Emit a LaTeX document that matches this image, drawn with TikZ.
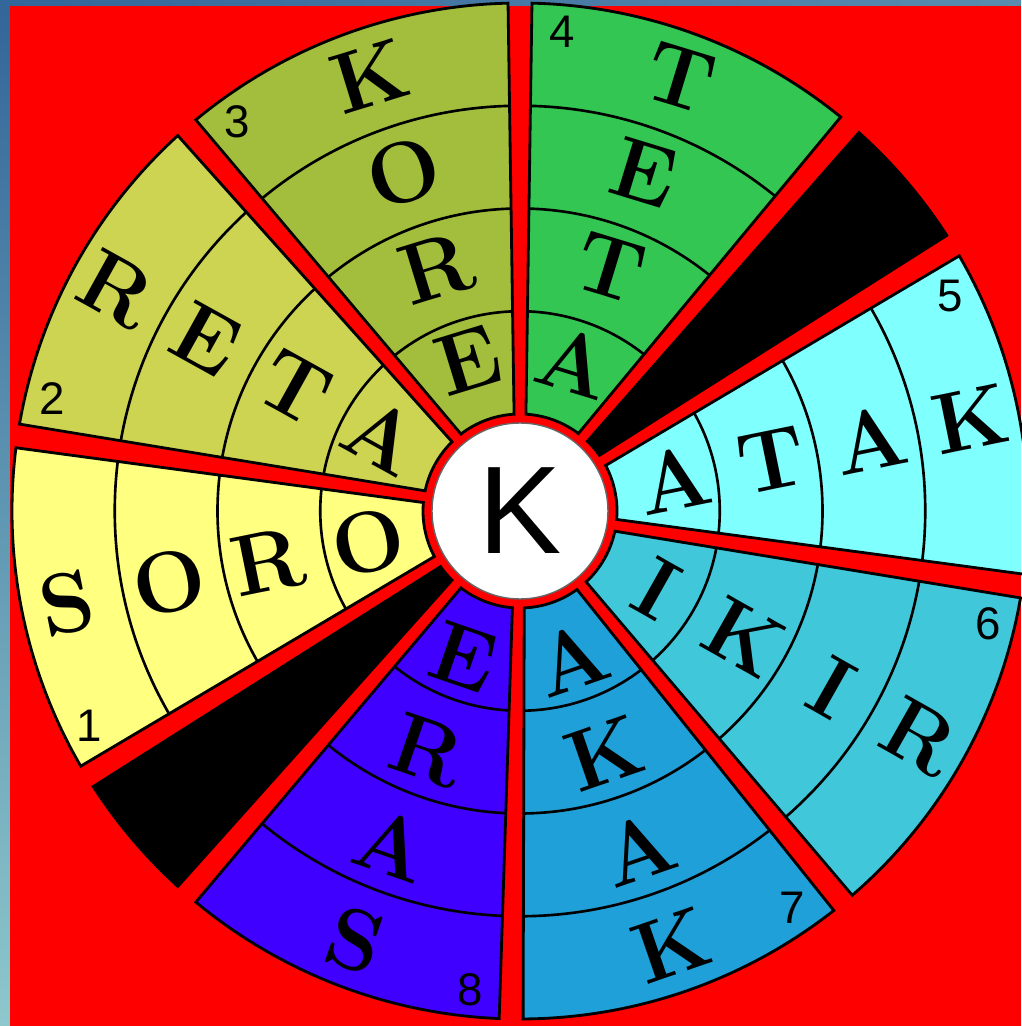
\documentclass[tikz,border=0pt]{standalone}
\usepackage{fontspec}
\newfontfamily\hubfont{Liberation Sans}
\definecolor{bgred}{HTML}{FF0000}
\definecolor{edgeblue}{HTML}{336699}
\definecolor{edgecyan}{HTML}{8CC8CC}
\definecolor{edgelight}{HTML}{5A8CAE}
\definecolor{wedgeone}{HTML}{FFFF80}
\definecolor{wedgetwo}{HTML}{CCD452}
\definecolor{wedgethree}{HTML}{A3BE3C}
\definecolor{wedgefour}{HTML}{34C652}
\definecolor{wedgefive}{HTML}{80FFFF}
\definecolor{wedgesix}{HTML}{40C8DA}
\definecolor{wedgeseven}{HTML}{20A0D8}
\definecolor{wedgeeight}{HTML}{4000FF}
\tikzset{
  outline/.style={draw=black, line width=1.6pt},
  ringline/.style={draw=black, line width=1.5pt},
  letter/.style={inner sep=0pt, font=\fontsize{49}{49}\selectfont\bfseries},
  number/.style={inner sep=0pt, font=\hubfont\fontsize{26}{26}\selectfont},
  hub/.style={circle, fill=white, draw=black!60, line width=0.8pt, minimum size=3.52cm, inner sep=0pt, font=\hubfont\fontsize{71}{71}\selectfont}
}

\begin{document}
\begin{tikzpicture}[x=0.02cm, y=0.02cm]

\useasboundingbox (-520,-515) rectangle (501,511);
\fill[bgred] (-510,-515) rectangle (501,505);
\shade[left color=edgeblue, right color=edgelight] (-520,505) rectangle (501,511);
\shade[top color=edgeblue, bottom color=edgecyan] (-520,-515) rectangle (-510,505);

% word wedges, numbered 1 to 8
\begin{scope}
  \clip (175:97) -- (172.85:508) arc[start angle=172.85, end angle=210.15, radius=508] -- (208:97) arc[start angle=208, end angle=175, radius=97] -- cycle;
  \fill[wedgeone] (-520,-515) rectangle (501,511);
  \draw[ringline] (0,0) circle[radius=199.75] circle[radius=302.5] circle[radius=405.25];
\end{scope}
\draw[outline] (175:97) -- (172.85:508) arc[start angle=172.85, end angle=210.15, radius=508] -- (208:97) arc[start angle=208, end angle=175, radius=97] -- cycle;

\begin{scope}
  \clip (134.5:97) -- (132.35:508) arc[start angle=132.35, end angle=170.15, radius=508] -- (168:97) arc[start angle=168, end angle=134.5, radius=97] -- cycle;
  \fill[wedgetwo] (-520,-515) rectangle (501,511);
  \draw[ringline] (0,0) circle[radius=199.75] circle[radius=302.5] circle[radius=405.25];
\end{scope}
\draw[outline] (134.5:97) -- (132.35:508) arc[start angle=132.35, end angle=170.15, radius=508] -- (168:97) arc[start angle=168, end angle=134.5, radius=97] -- cycle;

\begin{scope}
  \clip (93.5:97) -- (91.35:508) arc[start angle=91.35, end angle=129.65, radius=508] -- (127.5:97) arc[start angle=127.5, end angle=93.5, radius=97] -- cycle;
  \fill[wedgethree] (-520,-515) rectangle (501,511);
  \draw[ringline] (0,0) circle[radius=199.75] circle[radius=302.5] circle[radius=405.25];
\end{scope}
\draw[outline] (93.5:97) -- (91.35:508) arc[start angle=91.35, end angle=129.65, radius=508] -- (127.5:97) arc[start angle=127.5, end angle=93.5, radius=97] -- cycle;

\begin{scope}
  \clip (53:97) -- (50.85:508) arc[start angle=50.85, end angle=88.65, radius=508] -- (86.5:97) arc[start angle=86.5, end angle=53, radius=97] -- cycle;
  \fill[wedgefour] (-520,-515) rectangle (501,511);
  \draw[ringline] (0,0) circle[radius=199.75] circle[radius=302.5] circle[radius=405.25];
\end{scope}
\draw[outline] (53:97) -- (50.85:508) arc[start angle=50.85, end angle=88.65, radius=508] -- (86.5:97) arc[start angle=86.5, end angle=53, radius=97] -- cycle;

\begin{scope}
  \clip (-5:97) -- (-7.15:508) arc[start angle=-7.15, end angle=30.15, radius=508] -- (28:97) arc[start angle=28, end angle=-5, radius=97] -- cycle;
  \fill[wedgefive] (-520,-515) rectangle (501,511);
  \draw[ringline] (0,0) circle[radius=199.75] circle[radius=302.5] circle[radius=405.25];
\end{scope}
\draw[outline] (-5:97) -- (-7.15:508) arc[start angle=-7.15, end angle=30.15, radius=508] -- (28:97) arc[start angle=28, end angle=-5, radius=97] -- cycle;

\begin{scope}
  \clip (-47:97) -- (-49.15:508) arc[start angle=-49.15, end angle=-9.85, radius=508] -- (-12:97) arc[start angle=-12, end angle=-47, radius=97] -- cycle;
  \fill[wedgesix] (-520,-515) rectangle (501,511);
  \draw[ringline] (0,0) circle[radius=199.75] circle[radius=302.5] circle[radius=405.25];
\end{scope}
\draw[outline] (-47:97) -- (-49.15:508) arc[start angle=-49.15, end angle=-9.85, radius=508] -- (-12:97) arc[start angle=-12, end angle=-47, radius=97] -- cycle;

\begin{scope}
  \clip (-87.5:97) -- (-89.65:508) arc[start angle=-89.65, end angle=-51.85, radius=508] -- (-54:97) arc[start angle=-54, end angle=-87.5, radius=97] -- cycle;
  \fill[wedgeseven] (-520,-515) rectangle (501,511);
  \draw[ringline] (0,0) circle[radius=199.75] circle[radius=302.5] circle[radius=405.25];
\end{scope}
\draw[outline] (-87.5:97) -- (-89.65:508) arc[start angle=-89.65, end angle=-51.85, radius=508] -- (-54:97) arc[start angle=-54, end angle=-87.5, radius=97] -- cycle;

\begin{scope}
  \clip (-127.5:97) -- (-129.65:508) arc[start angle=-129.65, end angle=-92.35, radius=508] -- (-94.5:97) arc[start angle=-94.5, end angle=-127.5, radius=97] -- cycle;
  \fill[wedgeeight] (-520,-515) rectangle (501,511);
  \draw[ringline] (0,0) circle[radius=199.75] circle[radius=302.5] circle[radius=405.25];
\end{scope}
\draw[outline] (-127.5:97) -- (-129.65:508) arc[start angle=-129.65, end angle=-92.35, radius=508] -- (-94.5:97) arc[start angle=-94.5, end angle=-127.5, radius=97] -- cycle;

% blank wedges
\path[fill=black, outline] (35:97) -- (32.85:508) arc[start angle=32.85, end angle=48.15, radius=508] -- (46:97) arc[start angle=46, end angle=35, radius=97] -- cycle;
\path[fill=black, outline] (215:97) -- (212.85:508) arc[start angle=212.85, end angle=227.65, radius=508] -- (225.5:97) arc[start angle=225.5, end angle=215, radius=97] -- cycle;

\node[hub] (hub) at (0,0) {K};

\node[number] (num1) at (206.5:481) {1};
\node[number] (num2) at (166.5:481) {2};
\node[number] (num3) at (126:481) {3};
\node[number] (num4) at (85:481) {4};
\node[number] (num5) at (26.5:481) {5};
\node[number] (num6) at (-13.5:481) {6};
\node[number] (num7) at (-55.5:481) {7};
\node[number] (num8) at (-96:481) {8};

\node[letter, rotate=11.5] (soro1) at (191.5:462) {S};
\node[letter, rotate=11.5] (soro2) at (191.5:358) {O};
\node[letter, rotate=11.5] (soro3) at (191.5:257) {R};
\node[letter, rotate=11.5] (soro4) at (191.5:155) {O};

\node[letter, rotate=-29] (reta1) at (151.25:460) {R};
\node[letter, rotate=-29] (reta2) at (151.25:358) {E};
\node[letter, rotate=-29] (reta3) at (151.25:257) {T};
\node[letter, rotate=-29] (reta4) at (151.25:157) {A};

\node[letter, rotate=17] (kore1) at (109:460) {K};
\node[letter, rotate=17] (kore2) at (109:358) {O};
\node[letter, rotate=17] (kore3) at (109:257) {R};
\node[letter, rotate=17] (kore4) at (109:160) {E};

\node[letter, rotate=-17] (teta1) at (69.75:462) {T};
\node[letter, rotate=-17] (teta2) at (69.75:360) {E};
\node[letter, rotate=-17] (teta3) at (69.75:260) {T};
\node[letter, rotate=-17] (teta4) at (69.75:158) {A};

\node[letter, rotate=11.5] (atak1) at (11.5:157) {A};
\node[letter, rotate=11.5] (atak2) at (11.5:257) {T};
\node[letter, rotate=11.5] (atak3) at (11.5:358) {A};
\node[letter, rotate=11.5] (atak4) at (11.5:460) {K};

\node[letter, rotate=-29.5] (ikir1) at (-29.5:157) {I};
\node[letter, rotate=-29.5] (ikir2) at (-29.5:257) {K};
\node[letter, rotate=-29.5] (ikir3) at (-29.5:358) {I};
\node[letter, rotate=-29.5] (ikir4) at (-29.5:460) {R};

\node[letter, rotate=19] (akak1) at (-70.75:157) {A};
\node[letter, rotate=19] (akak2) at (-70.75:257) {K};
\node[letter, rotate=19] (akak3) at (-70.75:358) {A};
\node[letter, rotate=19] (akak4) at (-70.75:460) {K};

\node[letter, rotate=-19] (eras1) at (-111:157) {E};
\node[letter, rotate=-19] (eras2) at (-111:257) {R};
\node[letter, rotate=-19] (eras3) at (-111:358) {A};
\node[letter, rotate=-19] (eras4) at (-111:460) {S};

\end{tikzpicture}
\end{document}
